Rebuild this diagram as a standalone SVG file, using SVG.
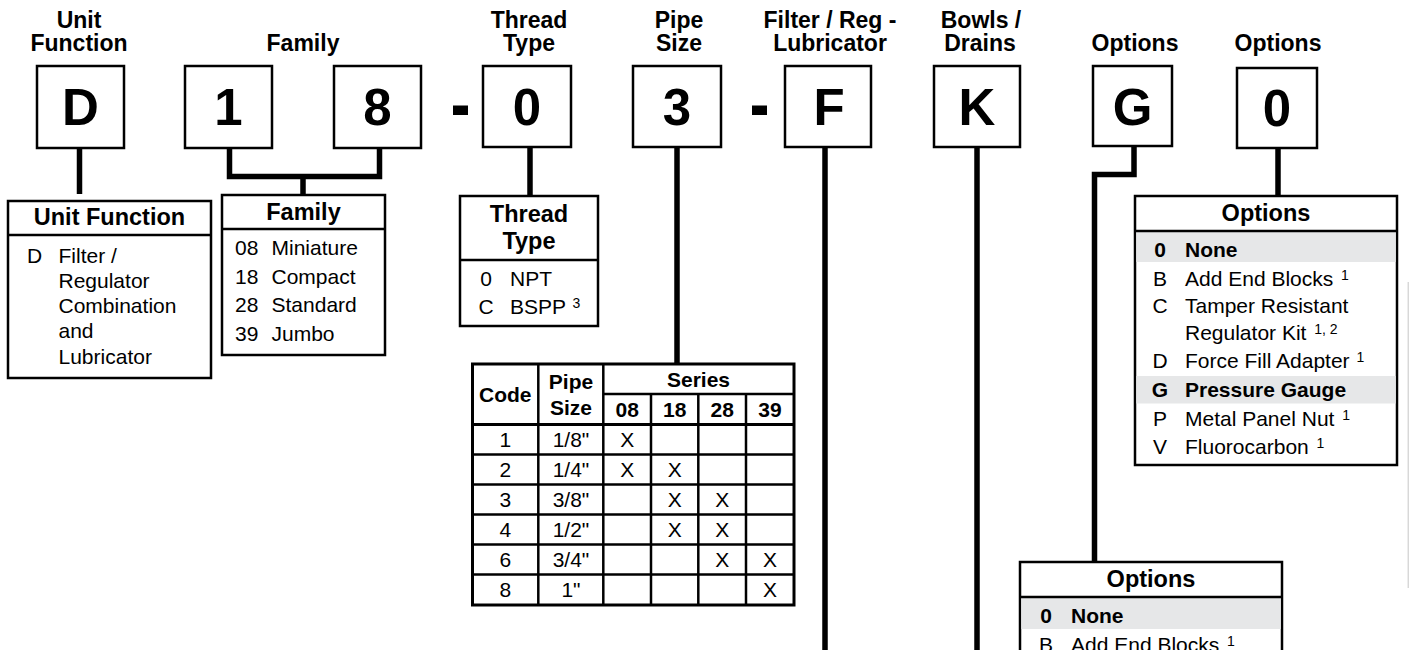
<svg xmlns="http://www.w3.org/2000/svg" width="1409" height="650" viewBox="0 0 1409 650">
<style>
text{font-family:"Liberation Sans",Arial,Helvetica,sans-serif;fill:#000}
.top{font-size:23px;font-weight:bold;text-anchor:middle}
.big{font-size:51px;font-weight:bold;text-anchor:middle}
.hdr{font-size:23.5px;font-weight:bold;text-anchor:middle}
.t{font-size:21px}
.b{font-size:21px;font-weight:bold}
.c{text-anchor:middle}
.sup{font-size:14px}
.box{fill:#fff;stroke:#000;stroke-width:2.5}
.sep{stroke:#000;stroke-width:2.5;fill:none}
.conn{stroke:#000;stroke-width:5.5;fill:none;stroke-linejoin:miter}
.band{fill:#e6e7e8}
.dash{fill:#000}
</style>
<rect width="1409" height="650" fill="#fff"/>

<g id="connectors">
<path class="conn" d="M79.5,148 V194"/>
<path class="conn" d="M229.5,148 V176.5 H379.5 V148 M303,176.5 V195"/>
<path class="conn" d="M530,147 V195"/>
<path class="conn" d="M677,147 V364"/>
<path class="conn" d="M825,147 V650"/>
<path class="conn" d="M977,147 V650"/>
<path class="conn" d="M1134,146 V174.5 H1094.5 V562"/>
<path class="conn" d="M1278,148 V196"/>
</g>

<g id="headers">
<text class="top" x="79" y="27.5">Unit</text>
<text class="top" x="79" y="51">Function</text>
<text class="top" x="303" y="51">Family</text>
<text class="top" x="529" y="27.5">Thread</text>
<text class="top" x="529" y="51">Type</text>
<text class="top" x="679" y="27.5">Pipe</text>
<text class="top" x="679" y="51">Size</text>
<text class="top" x="830" y="27.5">Filter / Reg -</text>
<text class="top" x="830" y="51">Lubricator</text>
<text class="top" x="981" y="27.5">Bowls /</text>
<text class="top" x="980" y="51">Drains</text>
<text class="top" x="1135" y="51">Options</text>
<text class="top" x="1278" y="51">Options</text>
</g>

<g id="code-D"><rect class="box" x="37" y="66" width="87" height="82"/><text class="big" x="80.5" y="124.5">D</text></g>
<g id="code-1"><rect class="box" x="185" y="66" width="87" height="82"/><text class="big" x="228.5" y="124.5">1</text></g>
<g id="code-8"><rect class="box" x="334" y="66" width="87" height="82"/><text class="big" x="377.5" y="124.5">8</text></g>
<rect class="dash" x="453" y="105.5" width="15" height="9.5"/>
<g id="code-0a"><rect class="box" x="483" y="66" width="88" height="81"/><text class="big" x="527" y="124.5">0</text></g>
<g id="code-3"><rect class="box" x="633" y="66" width="88" height="81"/><text class="big" x="677" y="124.5">3</text></g>
<rect class="dash" x="752" y="105.5" width="15" height="9.5"/>
<g id="code-F"><rect class="box" x="785" y="66" width="86" height="81"/><text class="big" x="829" y="124.5">F</text></g>
<g id="code-K"><rect class="box" x="934" y="66" width="86" height="81"/><text class="big" x="977" y="124.5">K</text></g>
<g id="code-G"><rect class="box" x="1093" y="66" width="79" height="80"/><text class="big" x="1132.5" y="124.5">G</text></g>
<g id="code-0b"><rect class="box" x="1237" y="68" width="80" height="80"/><text class="big" x="1277" y="126">0</text></g>

<g id="unit-function">
<rect class="box" x="8" y="201" width="203" height="177"/>
<line class="sep" x1="8" y1="235" x2="211" y2="235"/>
<text class="hdr" x="109.5" y="225">Unit Function</text>
<text class="t" x="27" y="262.5">D</text>
<text class="t" x="58.5" y="262.5">Filter /</text>
<text class="t" x="58.5" y="287.5">Regulator</text>
<text class="t" x="58.5" y="313">Combination</text>
<text class="t" x="58.5" y="338">and</text>
<text class="t" x="58.5" y="364">Lubricator</text>
</g>

<g id="family">
<rect class="box" x="222" y="195" width="163" height="160"/>
<line class="sep" x1="222" y1="229" x2="385" y2="229"/>
<text class="hdr" x="303.5" y="219.5">Family</text>
<text class="t" x="235" y="255">08</text><text class="t" x="271.5" y="255">Miniature</text>
<text class="t" x="235" y="283.5">18</text><text class="t" x="271.5" y="283.5">Compact</text>
<text class="t" x="235" y="312">28</text><text class="t" x="271.5" y="312">Standard</text>
<text class="t" x="235" y="340.5">39</text><text class="t" x="271.5" y="340.5">Jumbo</text>
</g>

<g id="thread-type">
<rect class="box" x="460" y="196" width="138" height="130"/>
<line class="sep" x1="460" y1="260" x2="598" y2="260"/>
<text class="hdr" x="529" y="222">Thread</text>
<text class="hdr" x="529" y="248.5">Type</text>
<text class="t c" x="486" y="286">0</text><text class="t" x="510" y="286">NPT</text>
<text class="t c" x="486" y="313.5">C</text><text class="t" x="510" y="313.5">BSPP <tspan class="sup" dx="1" dy="-6">3</tspan></text>
</g>

<g id="pipe-size-table">
<rect x="472.5" y="364" width="321.5" height="241" fill="#fff" stroke="#000" stroke-width="3"/>
<g class="sep">
<line x1="538.3" y1="364" x2="538.3" y2="605"/>
<line x1="603.3" y1="364" x2="603.3" y2="605"/>
<line x1="651" y1="394" x2="651" y2="605"/>
<line x1="698.3" y1="394" x2="698.3" y2="605"/>
<line x1="746" y1="394" x2="746" y2="605"/>
<line x1="603.3" y1="394" x2="794" y2="394"/>
<line x1="472.5" y1="424.5" x2="794" y2="424.5" stroke-width="3"/>
<line x1="472.5" y1="454.5" x2="794" y2="454.5"/>
<line x1="472.5" y1="484.5" x2="794" y2="484.5"/>
<line x1="472.5" y1="514.5" x2="794" y2="514.5"/>
<line x1="472.5" y1="544.5" x2="794" y2="544.5"/>
<line x1="472.5" y1="574.5" x2="794" y2="574.5"/>
</g>
<text class="b c" x="505.3" y="402">Code</text>
<text class="b c" x="571" y="388.5">Pipe</text>
<text class="b c" x="571" y="415">Size</text>
<text class="b c" x="698.5" y="387">Series</text>
<text class="b c" x="627.2" y="416.5">08</text>
<text class="b c" x="674.7" y="416.5">18</text>
<text class="b c" x="722.2" y="416.5">28</text>
<text class="b c" x="770" y="416.5">39</text>
<g class="t c">
<text class="t c" x="505.3" y="446.7">1</text><text class="t c" x="571" y="446.7">1/8"</text>
<text class="t c" x="505.3" y="476.7">2</text><text class="t c" x="571" y="476.7">1/4"</text>
<text class="t c" x="505.3" y="506.7">3</text><text class="t c" x="571" y="506.7">3/8"</text>
<text class="t c" x="505.3" y="536.7">4</text><text class="t c" x="571" y="536.7">1/2"</text>
<text class="t c" x="505.3" y="566.7">6</text><text class="t c" x="571" y="566.7">3/4"</text>
<text class="t c" x="505.3" y="596.7">8</text><text class="t c" x="571" y="596.7">1"</text>
<text class="t c" x="627.2" y="446.7">X</text>
<text class="t c" x="627.2" y="476.7">X</text><text class="t c" x="674.7" y="476.7">X</text>
<text class="t c" x="674.7" y="506.7">X</text><text class="t c" x="722.2" y="506.7">X</text>
<text class="t c" x="674.7" y="536.7">X</text><text class="t c" x="722.2" y="536.7">X</text>
<text class="t c" x="722.2" y="566.7">X</text><text class="t c" x="770" y="566.7">X</text>
<text class="t c" x="770" y="596.7">X</text>
</g>
</g>

<g id="options-1">
<rect class="box" x="1135" y="196" width="262" height="269"/>
<rect class="band" x="1136.3" y="232" width="259.4" height="30"/>
<rect class="band" x="1136.3" y="376" width="259.4" height="27.5"/>
<line class="sep" x1="1135" y1="231" x2="1397" y2="231"/>
<text class="hdr" x="1266" y="221">Options</text>
<text class="b c" x="1160" y="256.7">0</text><text class="b" x="1185" y="256.7">None</text>
<text class="t c" x="1160" y="285.5">B</text><text class="t" x="1185" y="285.5">Add End Blocks <tspan class="sup" dx="2" dy="-6">1</tspan></text>
<text class="t c" x="1160" y="313.3">C</text><text class="t" x="1185" y="313.3">Tamper Resistant</text>
<text class="t" x="1185" y="339.5">Regulator Kit <tspan class="sup" dx="2" dy="-6">1, 2</tspan></text>
<text class="t c" x="1160" y="368.3">D</text><text class="t" x="1185" y="368.3">Force Fill Adapter <tspan class="sup" dx="1" dy="-6">1</tspan></text>
<text class="b c" x="1160" y="397.3">G</text><text class="b" x="1185" y="397.3">Pressure Gauge</text>
<text class="t c" x="1160" y="426">P</text><text class="t" x="1185" y="426">Metal Panel Nut <tspan class="sup" dx="2" dy="-6">1</tspan></text>
<text class="t c" x="1160" y="454">V</text><text class="t" x="1185" y="454">Fluorocarbon <tspan class="sup" dx="2" dy="-6">1</tspan></text>
</g>

<g id="options-2">
<rect class="box" x="1020" y="562" width="262" height="110"/>
<rect class="band" x="1021.3" y="598" width="259.4" height="31"/>
<line class="sep" x1="1020" y1="597" x2="1282" y2="597"/>
<text class="hdr" x="1151" y="587">Options</text>
<text class="b c" x="1046" y="623">0</text><text class="b" x="1071" y="623">None</text>
<text class="t c" x="1046" y="652">B</text><text class="t" x="1071" y="652">Add End Blocks <tspan class="sup" dx="2" dy="-6">1</tspan></text>
</g>

<line x1="1408.3" y1="282" x2="1408.3" y2="588" stroke="#d8d8d8" stroke-width="1.5"/>
</svg>
